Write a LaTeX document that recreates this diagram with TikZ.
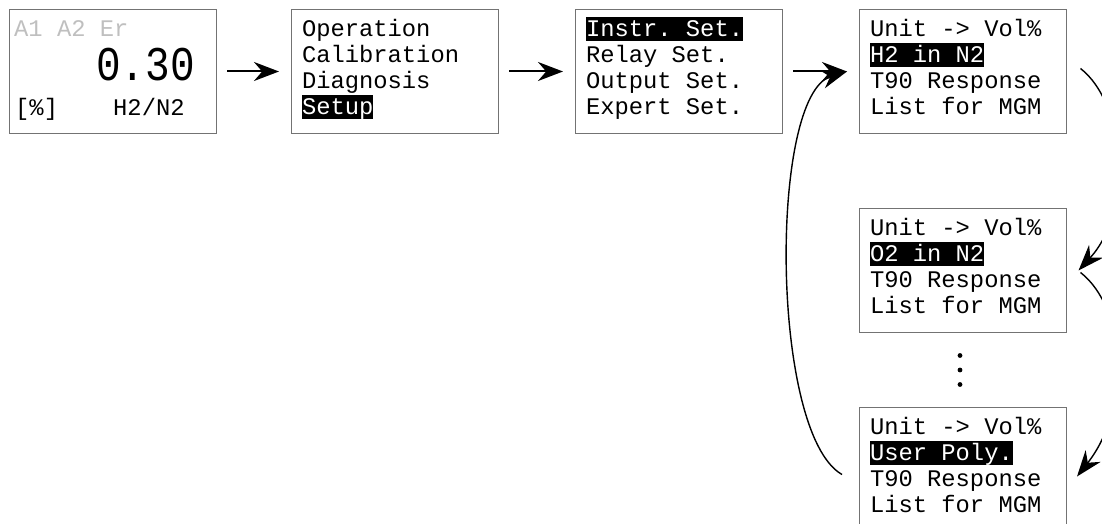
\documentclass[tikz,border=0pt]{standalone}
\usepackage{fontspec}
\usepackage{graphicx}
\usetikzlibrary{positioning,arrows.meta}

\newfontfamily\lcdfont{Liberation Mono}
\newcommand{\lcdsize}[1]{\lcdfont\fontsize{#1}{26}\selectfont}
% one character cell of the display
\newcommand{\gap}{\hspace*{0.6em}}
\newcommand{\selrow}[1]{{\setlength{\fboxsep}{0pt}\colorbox{black}{\color{white}\rule[-4.5pt]{0pt}{24pt}#1}}}

\begin{document}
\begin{tikzpicture}[
  x = 1pt, y = -1pt,
  screen/.style = {draw = black!55, line width = 1pt, minimum width = 207pt,
                   minimum height = 124pt, text width = 186pt, inner xsep = 10.5pt,
                   inner ysep = 0pt, align = left, font = \lcdsize{23.8},
                   execute at begin node = \rule{0pt}{19.5pt},
                   execute at end node = \rule[-12pt]{0pt}{0pt}},
  readout/.style = {inner sep = 0pt, font = \lcdsize{23.8}},
  flow/.style = {-{Stealth[length = 25pt, width = 19pt]}, line width = 2pt,
                 shorten < = 10pt, shorten > = 12pt},
  backarc/.style = {-{Stealth[length = 26pt, width = 19pt]}, line width = 1.4pt},
  ]
  \useasboundingbox (0,0) rectangle (1102,524);

  % main display
  \node[screen] (disp) at (113,71.5) {};
  \node[readout, text = black!25, anchor = base west] (flags)
    at ([xshift = 5pt, yshift = -28pt]disp.north west) {A1\gap A2\gap Er};
  \node[readout, anchor = base east, font = \lcdsize{41}] (value)
    at ([xshift = -22pt, yshift = -72pt]disp.north east) {\scalebox{1}[1.18]{0.30}};
  \node[readout, anchor = base west] (unit)
    at ([xshift = 6pt, yshift = -107pt]disp.north west) {[\%]};
  \node[readout, anchor = base west] (gasname)
    at ([xshift = 104pt, yshift = -107pt]disp.north west) {H2/N2};

  % menus
  \node[screen, right = 74pt of disp] (menu)
    {Operation\\Calibration\\Diagnosis\\\selrow{Setup}};
  \node[screen, right = 76pt of menu] (setup)
    {\selrow{Instr.\gap Set.}\\Relay\gap Set.\\Output\gap Set.\\Expert\gap Set.};
  \node[screen, right = 76pt of setup] (gasA)
    {Unit\gap ->\gap Vol\%\\\selrow{H2\gap in\gap N2}\\T90\gap Response\\List\gap for\gap MGM};
  \node[screen, below = 74pt of gasA] (gasB)
    {Unit\gap ->\gap Vol\%\\\selrow{O2\gap in\gap N2}\\T90\gap Response\\List\gap for\gap MGM};
  \node[screen, below = 74pt of gasB] (gasU)
    {Unit\gap ->\gap Vol\%\\\selrow{User\gap Poly.}\\T90\gap Response\\List\gap for\gap MGM};

  \path (gasB.south) -- (gasU.north) coordinate[midway] (more);
  \foreach \dy in {-14.5, 0, 14.5}
    \fill ([xshift = -3pt, yshift = \dy pt]more) circle (2.4pt);

  \draw[flow] (disp) -- (menu);
  \draw[flow] (menu) -- (setup);
  \draw[flow] (setup) -- (gasA);

  \draw[backarc] ([xshift = -17pt, yshift = -5pt]gasU.west)
    .. controls +(-72,-41) and +(-78,24) .. ([xshift = -12pt]gasA.west);
  \draw[backarc] ([xshift = 13.5pt, yshift = 3pt]gasA.east)
    .. controls +(45,35) and +(55,-60) .. ([xshift = 11.5pt]gasB.east);
  \draw[backarc] ([xshift = 13.5pt, yshift = -2pt]gasB.east)
    .. controls +(45,35) and +(55,-70) .. ([xshift = 10pt, yshift = -7pt]gasU.east);
\end{tikzpicture}
\end{document}
